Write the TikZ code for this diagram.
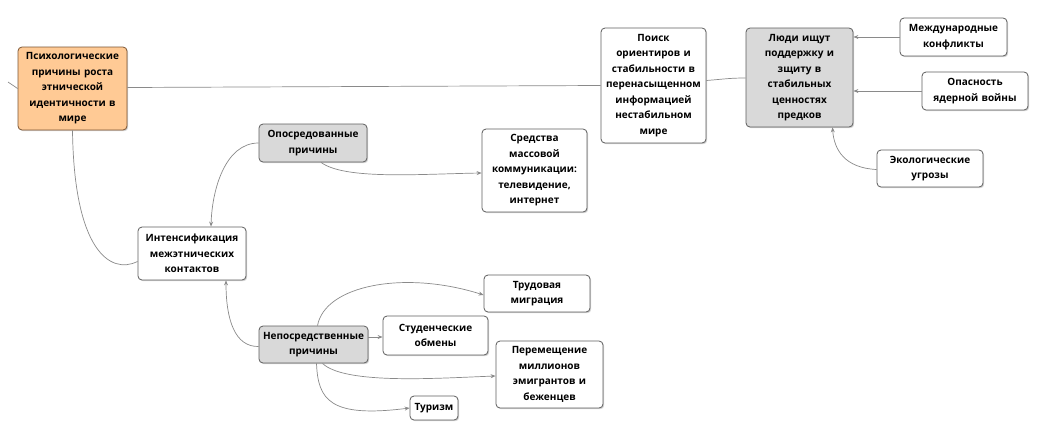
\documentclass[tikz,border=0pt]{standalone}
\usepackage{fontspec}
\setmainfont{Open Sans}
\usetikzlibrary{shadows,arrows.meta,calc}
\definecolor{bordc}{HTML}{5E5E5E}
\definecolor{grayfill}{HTML}{D9D9D9}
\definecolor{orangefill}{HTML}{FFCA95}
\definecolor{orangebord}{HTML}{B07A4A}
\definecolor{linec}{HTML}{8A8A8A}
\tikzset{
  box/.style={draw=bordc, line width=0.8pt, rounded corners=4pt, fill=white, align=center,
    font=\fontsize{10}{15.5}\selectfont\bfseries, inner xsep=3pt, inner ysep=2pt,
    drop shadow={shadow xshift=1.2pt, shadow yshift=-1.2pt, opacity=0.35}},
  graybox/.style={box, fill=grayfill},
  orangebox/.style={box, fill=orangefill, draw=orangebord!70!black},
  conn/.style={draw=linec, line width=0.7pt},
  arr/.style={conn, -{Stealth[length=5pt,width=4pt]}},
}
\newcommand{\bx}[7]{\node[#1, minimum width=#2pt, minimum height=#3pt, text width=#2pt-6pt] (#4) at (#5pt,-#6pt) {#7};}
\begin{document}
\begin{tikzpicture}[x=1pt,y=1pt]
\useasboundingbox (0,0) rectangle (1038,-429);
\bx{orangebox}{109}{83}{orange}{72.5}{88.5}{Психологические\\причины роста\\этнической\\идентичности в\\мире}
\bx{box}{105}{115}{poisk}{653.5}{85.5}{Поиск\\ориентиров и\\стабильности в\\перенасыщенном\\информацией\\нестабильном\\мире}
\bx{graybox}{107}{99}{ludi}{799.5}{77.5}{Люди ищут\\поддержку и\\зщиту в\\стабильных\\ценностях\\предков}
\bx{box}{107}{38}{mezhd}{953.5}{37}{Международные\\конфликты}
\bx{box}{106}{38}{opasn}{975}{91}{Опасность\\ядерной войны}
\bx{box}{106}{37}{ekol}{930}{168.5}{Экологические\\угрозы}
\bx{graybox}{108}{38}{opos}{313}{143}{Опосредованные\\причины}
\bx{box}{105}{83}{sredst}{534.5}{170.5}{Средства\\массовой\\коммуникации:\\телевидение,\\интернет}
\bx{box}{108}{53}{intens}{192}{253.5}{Интенсификация\\межэтнических\\контактов}
\bx{graybox}{109}{37}{neposr}{313.5}{344.5}{Непосредственные\\причины}
\bx{box}{106}{37}{trud}{537}{293.5}{Трудовая\\миграция}
\bx{box}{105}{39}{stud}{435.5}{335.5}{Студенческие\\обмены}
\bx{box}{107}{67}{perem}{549.5}{374.5}{Перемещение\\миллионов\\эмигрантов и\\беженцев}
\node[box, minimum width=48pt, minimum height=24pt, inner xsep=2pt] (turizm) at (434pt,-408pt) {Туризм};

\coordinate (stub) at (8,-82);
\draw[conn] (stub) -- (orange.west);
\draw[conn] ($(orange.east)+(0,1)$) -- ($(poisk.west)+(0,0)$);
\draw[conn] ($(poisk.east)+(0,5)$) .. controls (725,-79) and (730,-78) .. ($(ludi.west)+(0,-0.5)$);
\draw[arr] (mezhd.west) -- (mezhd.west -| ludi.east);
\draw[arr] (opasn.west) -- (opasn.west -| ludi.east);
\draw[arr] ($(ekol.west)+(0,-1)$) .. controls (845,-168) and (834,-150) .. ($(ludi.south)+(33,0)$);
\draw[conn] (orange.south) .. controls (74,-250) and (110,-275) .. ($(intens.west)+(0,-8)$);
\draw[arr] (opos.west) .. controls (225,-143) and (212,-190) .. ($(intens.north)+(19,0)$);
\draw[arr] ($(opos.south)+(8,0)$) .. controls (345,-180) and (420,-174) .. ($(sredst.west)+(0,-2.5)$);
\draw[arr] ($(neposr.west)+(0,-2)$) .. controls (235,-347) and (226,-320) .. ($(intens.south)+(34,0)$);
\draw[arr] ($(neposr.north)+(4,0)$) .. controls (325,-285) and (405,-270) .. ($(trud.west)+(0,-1.5)$);
\draw[arr] ($(neposr.east)+(0,7.5)$) -- ($(stud.west)+(0,-1.5)$);
\draw[arr] ($(neposr.south)+(9,0)$) .. controls (345,-385) and (440,-378) .. ($(perem.west)+(0,-1.5)$);
\draw[arr] ($(neposr.south)+(3,0)$) .. controls (318,-400) and (330,-418) .. (turizm.west);
\end{tikzpicture}
\end{document}
